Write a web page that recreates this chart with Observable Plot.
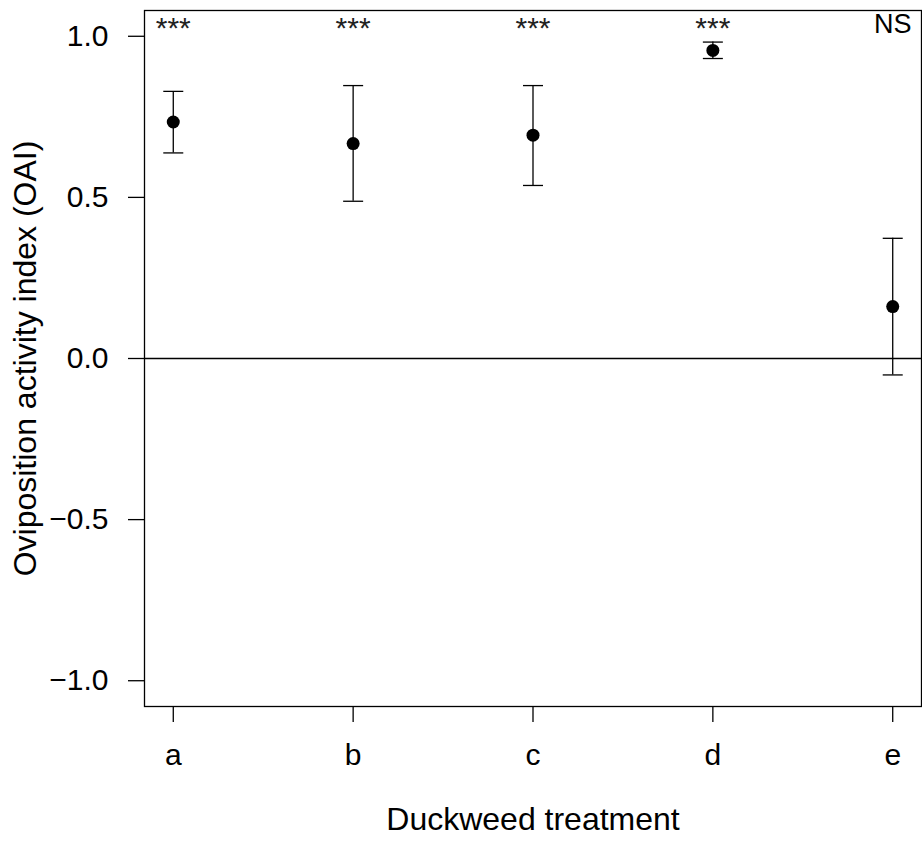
<!DOCTYPE html>
<html>
<head>
<meta charset="utf-8">
<script src="https://cdn.jsdelivr.net/npm/d3@7"></script>
<script src="https://cdn.jsdelivr.net/npm/@observablehq/plot@0.6"></script>
<style>
  html, body { margin: 0; padding: 0; background: white; }
</style>
</head>
<body>
<div id="chart"></div>
<script>
const treatments = ["a", "b", "c", "d", "e"];
const oai = [0.734, 0.667, 0.693, 0.956, 0.161];
const ciLow = [0.638, 0.488, 0.537, 0.931, -0.051];
const ciHigh = [0.829, 0.847, 0.847, 0.982, 0.373];
const signif = ["***", "***", "***", "***", "NS"];
const yTicks = [-1, -0.5, 0, 0.5, 1];

const data = treatments.map((t, i) => ({
  pos: i + 1, t, oai: oai[i], lo: ciLow[i], hi: ciHigh[i], sig: signif[i]
}));

const capSymbol = {
  draw(context, size) {
    const r = Math.sqrt(size / Math.PI);
    context.moveTo(-r, 0);
    context.lineTo(r, 0);
  }
};

const font = "'Liberation Sans', Arial, sans-serif";

const chart = Plot.plot({
  width: 922,
  height: 843,
  marginLeft: 144,
  marginRight: 1,
  marginTop: 10,
  marginBottom: 137,
  style: { fontFamily: font, fontSize: "30px", color: "black", background: "white" },
  x: { domain: [0.84, 5.16] },
  y: { domain: [-1.08, 1.08] },
  marks: [
    Plot.frame({ stroke: "black", strokeWidth: 1.3 }),
    Plot.ruleY([0], { stroke: "black", strokeWidth: 1.3 }),
    Plot.axisY({
      ticks: yTicks,
      tickFormat: d => d.toFixed(1).replace("-", "\u2212"),
      tickSize: 16, tickPadding: 20, strokeWidth: 1.3,
      label: null, fontSize: 30
    }),
    Plot.axisY({
      ticks: [], tickSize: 0,
      label: "Oviposition activity index (OAI)", labelAnchor: "center", labelOffset: 131, labelArrow: "none",
      fontSize: 32
    }),
    Plot.axisX({
      ticks: data.map(d => d.pos),
      tickFormat: d => treatments[d - 1],
      tickSize: 16, tickPadding: 21, strokeWidth: 1.3,
      label: null, fontSize: 30
    }),
    Plot.axisX({
      ticks: [], tickSize: 0,
      label: "Duckweed treatment", labelAnchor: "center", labelOffset: 123, labelArrow: "none",
      fontSize: 32
    }),
    Plot.ruleX(data, { x: "pos", y1: "lo", y2: "hi", stroke: "black", strokeWidth: 1.3 }),
    Plot.dot(data, { x: "pos", y: "lo", symbol: capSymbol, r: 10, stroke: "black", strokeWidth: 1.3, fill: "none" }),
    Plot.dot(data, { x: "pos", y: "hi", symbol: capSymbol, r: 10, stroke: "black", strokeWidth: 1.3, fill: "none" }),
    Plot.dot(data, { x: "pos", y: "oai", r: 6.5, fill: "black", stroke: "none" }),
    Plot.text(data.filter(d => d.sig === "***"), { x: "pos", text: "sig", frameAnchor: "top", lineAnchor: "top", dy: 6, fontSize: 30, fill: "#222" }),
    Plot.text(data.filter(d => d.sig !== "***"), { x: "pos", text: "sig", frameAnchor: "top", lineAnchor: "top", dy: 3, fontSize: 27, fill: "black" })
  ]
});

document.getElementById("chart").appendChild(chart);
</script>
</body>
</html>
